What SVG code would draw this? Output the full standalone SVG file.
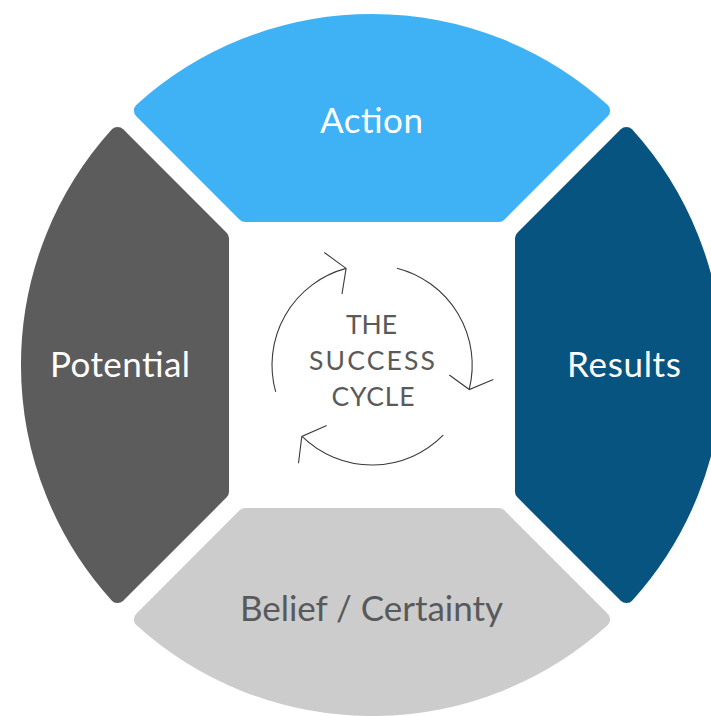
<svg xmlns="http://www.w3.org/2000/svg" width="711" height="716" viewBox="0 0 711 716">
  <style>
    .seg { stroke-width: 16; stroke-linejoin: round; }
    .lbl { font-family: Lato, "Liberation Sans", sans-serif; font-size: 35px; text-anchor: middle; }
    .ctr { font-family: Lato, "Liberation Sans", sans-serif; font-size: 26.5px; text-anchor: middle; fill: #5a5a5a; }
    .arc { fill: none; stroke: #3a3a3a; stroke-width: 1.1; }
  </style>
  <rect width="711" height="716" fill="#ffffff"/>
  <g id="action">
    <path class="seg" fill="#3fb2f5" stroke="#3fb2f5" d="M 245.3 214 L 141.9 110.6 A 343 343 0 0 1 602.1 110.6 L 498.7 214 Z"/>
    <text class="lbl" x="371.5" y="133" fill="#ffffff" textLength="103" lengthAdjust="spacing">Action</text>
  </g>
  <g id="potential">
    <path class="seg" fill="#5c5c5c" stroke="#5c5c5c" d="M 221 238.3 L 117.6 134.9 A 343 343 0 0 0 117.6 595.1 L 221 491.7 Z"/>
    <text class="lbl" x="120" y="377" fill="#ffffff" textLength="140" lengthAdjust="spacing">Potential</text>
  </g>
  <g id="results">
    <path class="seg" fill="#085481" stroke="#085481" d="M 523 238.3 L 626.4 134.9 A 343 343 0 0 1 626.4 595.1 L 523 491.7 Z"/>
    <text class="lbl" x="624" y="377" fill="#ffffff" textLength="114" lengthAdjust="spacing">Results</text>
  </g>
  <g id="belief">
    <path class="seg" fill="#cccccc" stroke="#cccccc" d="M 245.3 516 L 141.9 619.4 A 343 343 0 0 0 602.1 619.4 L 498.7 516 Z"/>
    <text class="lbl" x="371.5" y="621" fill="#58595b" textLength="263" lengthAdjust="spacing">Belief / Certainty</text>
  </g>
  <g id="center">
    <text class="ctr" x="371.5" y="333.5" textLength="51" lengthAdjust="spacing">THE</text>
    <text class="ctr" x="372" y="370" textLength="126" lengthAdjust="spacing">SUCCESS</text>
    <text class="ctr" x="373" y="405.5" textLength="83" lengthAdjust="spacing">CYCLE</text>
  </g>
  <g id="connectors">
    <path class="arc" d="M 275.7 391.9 A 100 100 0 0 1 346.1 268.4"/>
    <polyline class="arc" points="324.3,252.5 346.1,268.4 342,294"/>
    <path class="arc" d="M 397 268.2 A 100 100 0 0 1 469.3 389"/>
    <polyline class="arc" points="449.3,375 469.3,389.5 493.3,379.5"/>
    <path class="arc" d="M 443.2 435.2 A 100 100 0 0 1 302.3 436.7"/>
    <polyline class="arc" points="326.7,425.5 301.8,436.5 298.5,463.3"/>
  </g>
</svg>
